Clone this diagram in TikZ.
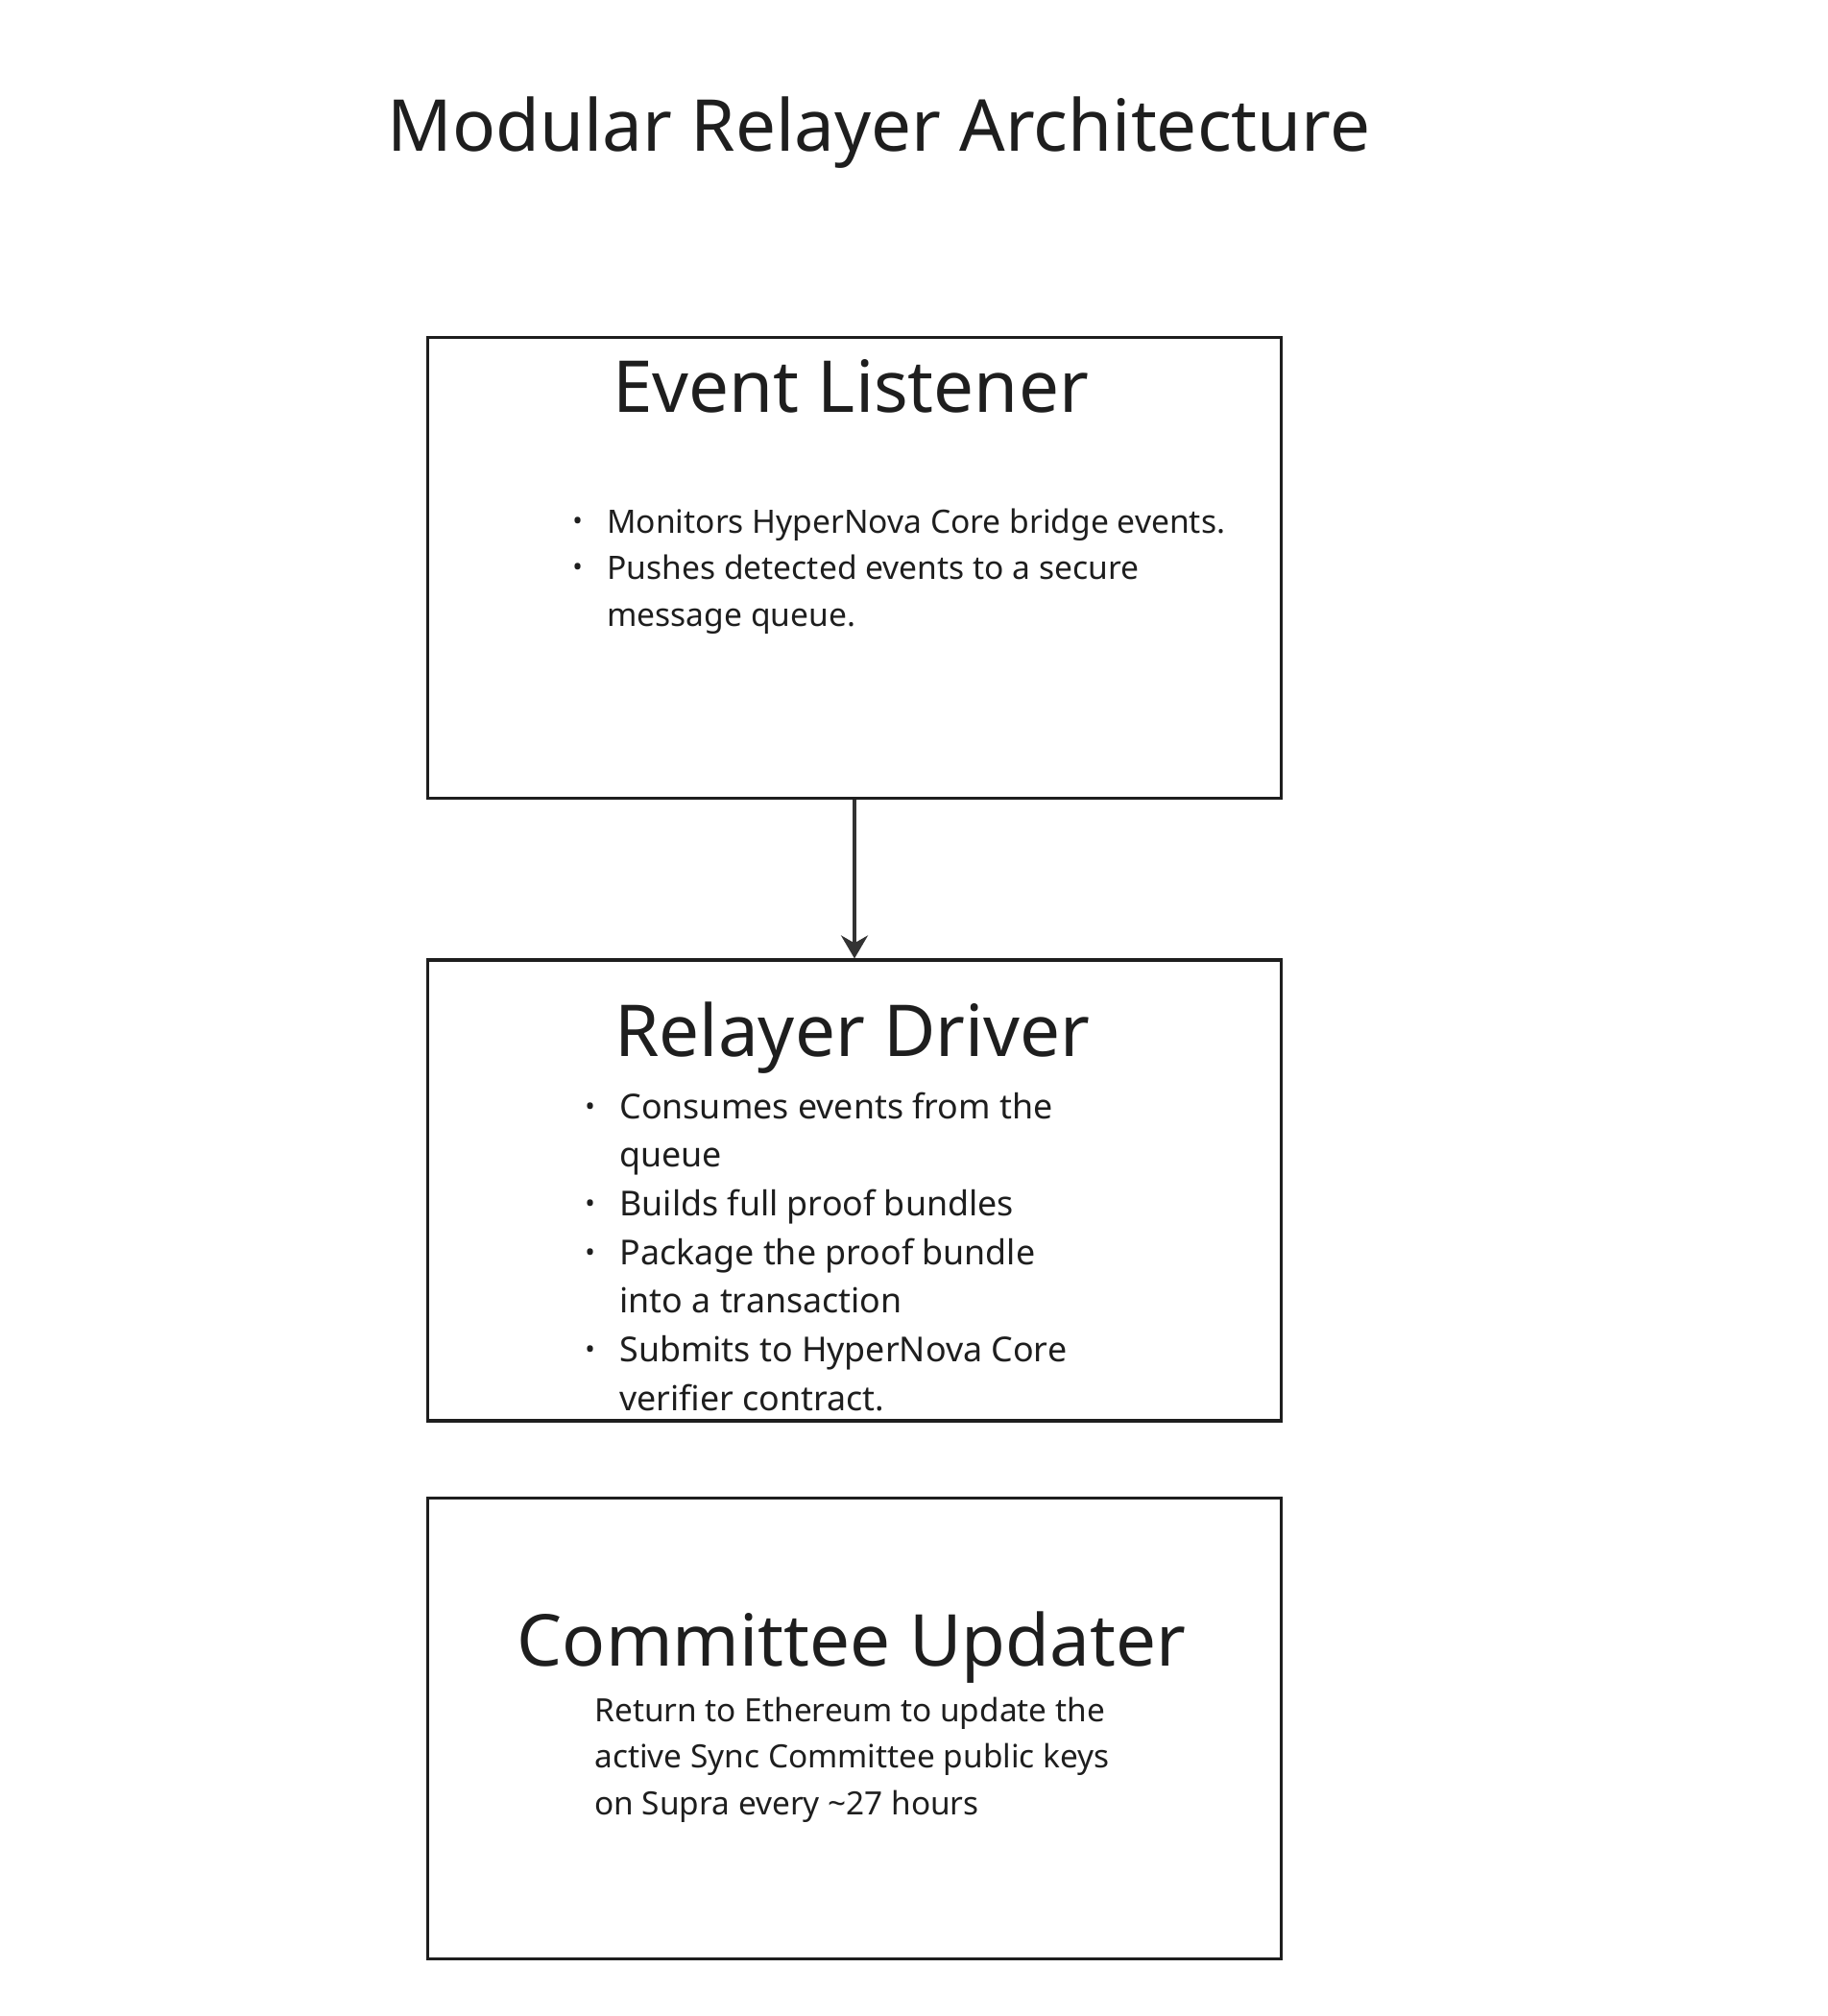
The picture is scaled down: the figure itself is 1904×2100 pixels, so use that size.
\documentclass[tikz,border=0pt]{standalone}
\usepackage{fontspec}
\setmainfont{Noto Sans}
\usetikzlibrary{arrows.meta}
\definecolor{ink}{HTML}{1E1E1E}
\definecolor{wire}{HTML}{333333}
\newcommand{\dotmark}{\makebox[16pt][l]{\hspace{-2pt}\raisebox{0.15ex}{\fontsize{14}{14}\selectfont •}}}

\begin{document}
\begin{tikzpicture}[x=0.5pt,y=-0.5pt,
	box/.style={draw=ink,line width=1.6pt,minimum width=444.5pt,minimum height=240pt,inner sep=0pt},
	heading/.style={anchor=base,inner sep=0pt,text=ink,font=\fontsize{37.3}{44}\selectfont},
	bullets/.style={anchor=base west,inner sep=0pt,text=ink},
	link/.style={draw=wire,line width=1.6pt,-{Stealth[length=12pt,width=14pt,inset=4pt]}}]
	\useasboundingbox (0,0) rectangle (1904,2100);
	\node[anchor=base,inner sep=0pt,text=ink,font=\fontsize{37.3}{46}\selectfont] (title) at (915.5,157) {Modular Relayer Architecture};
	\node[box] (listener) at (890,591.5) {};
	\node[box] (driver) at (890,1240) {};
	\node[box] (updater) at (890,1800.5) {};
	\node[heading] (listenerhead) at (886,429) {Event Listener};
	\node[heading] (driverhead) at (888,1100) {Relayer Driver};
	\node[heading] (updaterhead) at (887,1735) {Committee Updater};
	\node[bullets,font=\fontsize{16.8}{24.25}\selectfont] (listenertext) at (600,555) {%
		\begin{tabular}[t]{@{}l@{}l@{}}
			\dotmark & Monitors HyperNova Core bridge events.\\
			\dotmark & Pushes detected events to a secure\\
			& message queue.
		\end{tabular}};
	\node[bullets,font=\fontsize{17.9}{25.35}\selectfont] (drivertext) at (613,1165) {%
		\begin{tabular}[t]{@{}l@{}l@{}}
			\dotmark & Consumes events from the\\
			& queue\\
			\dotmark & Builds full proof bundles\\
			\dotmark & Package the proof bundle\\
			& into a transaction\\
			\dotmark & Submits to HyperNova Core\\
			& verifier contract.
		\end{tabular}};
	\node[bullets,font=\fontsize{16.7}{24.25}\selectfont] (updatertext) at (619,1793) {%
		\begin{tabular}[t]{@{}l@{}}
			Return to Ethereum to update the\\
			active Sync Committee public keys\\
			on Supra every \textasciitilde27 hours
		\end{tabular}};
	\draw[link] (listener) -- (driver);
\end{tikzpicture}
\end{document}
